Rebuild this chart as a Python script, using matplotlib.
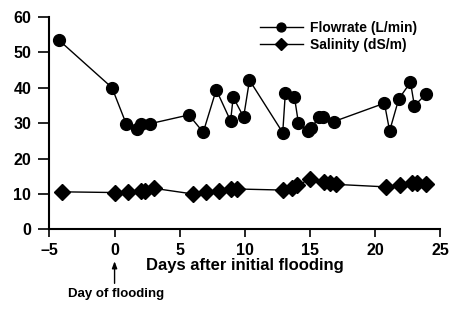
import matplotlib
matplotlib.use("Agg")
import matplotlib.pyplot as plt

plt.rcParams['font.family'] = ['Liberation Sans', 'DejaVu Sans']
plt.rcParams['font.weight'] = 'bold'

# flowrate (L/min) vs days after initial flooding
flow_days = [-4.3, -0.2, 0.9, 1.7, 2.0, 2.7, 5.7, 6.8, 7.8, 8.9, 9.1, 9.9, 10.35,
             12.9, 13.1, 13.8, 14.1, 14.8, 15.1, 15.7, 16.0, 16.8,
             20.7, 21.1, 21.8, 22.7, 23.0, 23.9]
flow = [53.5, 40.0, 29.7, 28.3, 29.8, 29.8, 32.3, 27.4, 39.4, 30.6, 37.3, 31.7, 42.1,
        27.3, 38.5, 37.3, 30.1, 27.8, 28.6, 31.8, 31.8, 30.4,
        35.6, 27.8, 36.8, 41.5, 34.9, 38.2]

# salinity (dS/m)
sal_days = [-4.0, 0.0, 1.0, 2.0, 2.3, 3.0, 6.0, 7.0, 8.0, 8.9, 9.4,
            12.9, 13.6, 14.0, 15.0, 16.1, 16.5, 17.0, 20.8, 21.9, 22.8, 23.2, 23.9]
sal = [10.6, 10.4, 10.5, 10.9, 10.9, 11.6, 10.0, 10.6, 10.9, 11.3, 11.4,
       11.1, 11.6, 12.4, 14.2, 13.4, 13.2, 12.7, 12.0, 12.4, 13.0, 13.0, 12.7]

fig = plt.figure(figsize=(4.49, 3.10), dpi=100)
ax = fig.add_axes([0.11, 0.26, 0.871, 0.686])

ax.plot(flow_days, flow, '-o', color='black', lw=1, ms=8.5, label='Flowrate (L/min)')
ax.plot(sal_days, sal, '-D', color='black', lw=1, ms=8, label='Salinity (dS/m)')

ax.set_xlim(-5, 25)
ax.set_ylim(0, 60)
ax.set_xticks(range(-5, 26, 5))
ax.set_xticklabels(['\u20135', '0', '5', '10', '15', '20', '25'])
ax.set_yticks(range(0, 61, 10))
ax.spines['top'].set_visible(False)
ax.spines['right'].set_visible(False)
ax.spines['left'].set_linewidth(1.5)
ax.spines['bottom'].set_linewidth(1.5)
ax.tick_params(axis='y', direction='out', length=8, width=1.2, pad=5, labelsize=11.5)
ax.tick_params(axis='x', direction='out', length=6, width=1.2, pad=4, labelsize=11.5)
for lab in ax.get_xticklabels() + ax.get_yticklabels():
    lab.set_fontweight('bold')

ax.set_xlabel('Days after initial flooding', fontsize=12, fontweight='bold', labelpad=0)

ax.legend(loc='upper left', bbox_to_anchor=(0.506, 1.04), frameon=False, fontsize=10,
          handlelength=3.1, labelspacing=0.25, handletextpad=0.5, markerscale=0.75)

# day of flooding annotation
ax.annotate('', xy=(0, -8.2), xytext=(0, -16), annotation_clip=False,
            arrowprops=dict(arrowstyle='-|>,head_width=0.15,head_length=0.4',
                            color='black', lw=1))
ax.text(0.1, -18.1, 'Day of flooding', fontsize=9.5, fontweight='bold',
        ha='center', va='center')

fig.savefig('out.png', dpi=100)
